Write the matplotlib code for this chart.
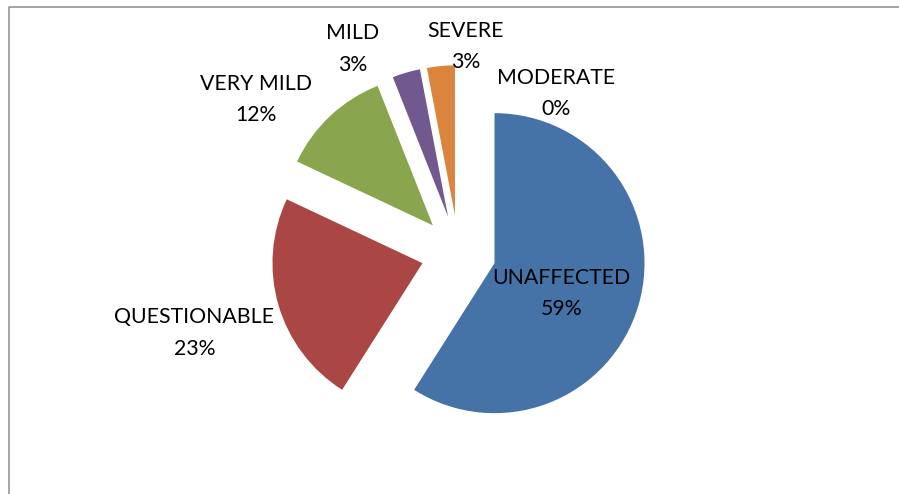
"""Exploded pie of severity categories."""

import matplotlib
matplotlib.use("Agg")
import matplotlib.pyplot as plt
from matplotlib.lines import Line2D

categories = ["UNAFFECTED", "QUESTIONABLE", "VERY MILD", "MILD", "SEVERE", "MODERATE"]
shares = [59, 23, 12, 3, 3, 0]
colors = ["#4572A7", "#AA4643", "#89A54E", "#71588F", "#DB843D", "#4198AF"]

# label centres in pie-radius units (Excel's placement)
label_xy = [(0.687, -0.272), (-1.76, -0.535), (-1.35, 1.021),
            (-0.703, 1.359), (0.047, 1.375), (0.653, 1.061)]

W, H = 899, 494
CX, CY, R = 458.5, 494 - 252.7, 150.0


def main() -> None:
    fig = plt.figure(figsize=(W / 100, H / 100), dpi=100)
    ax = fig.add_axes([0, 0, 1, 1])
    ax.pie(shares, colors=colors, startangle=90, counterclock=False,
           explode=[0.25] * len(shares), radius=1.0,
           wedgeprops=dict(linewidth=0))
    ax.set_xlim(-CX / R, (W - CX) / R)
    ax.set_ylim(-CY / R, (H - CY) / R)
    ax.set_aspect("auto")
    ax.axis("off")

    for name, val, (x, y) in zip(categories, shares, label_xy):
        ax.text(x, y, f"{name}\n{val}%", ha="center", va="center",
                multialignment="center", fontsize=15.3, family="Lato",
                linespacing=1.72, color="#000000")

    fig.add_artist(Line2D([8.5 / W, 8.5 / W, 1.0], [0.0, 1 - 7.5 / H, 1 - 7.5 / H],
                          transform=fig.transFigure, color="#8c8c8c", lw=1.1))
    fig.savefig("out.png", dpi=100)
    plt.close(fig)


if __name__ == "__main__":
    main()
